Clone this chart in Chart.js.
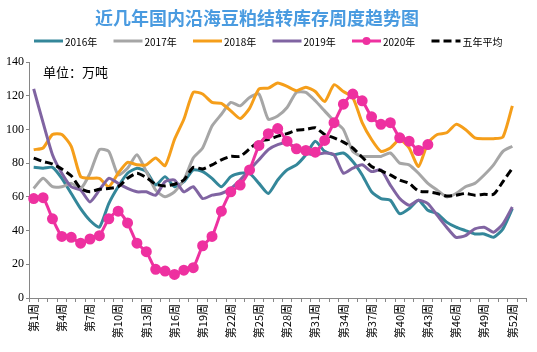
<!DOCTYPE html>
<html>
<head>
<meta charset="utf-8">
<script src="https://cdn.jsdelivr.net/npm/chart.js"></script>
<style>
  html, body { margin: 0; padding: 0; background: #fff; }
</style>
</head>
<body>
<canvas id="stockChart" width="537" height="352"></canvas>
<script>
// 周次（第53周只占位，不画数据）
const weeks = ['第1周','第2周','第3周','第4周','第5周','第6周','第7周','第8周','第9周','第10周',
  '第11周','第12周','第13周','第14周','第15周','第16周','第17周','第18周','第19周','第20周',
  '第21周','第22周','第23周','第24周','第25周','第26周','第27周','第28周','第29周','第30周',
  '第31周','第32周','第33周','第34周','第35周','第36周','第37周','第38周','第39周','第40周',
  '第41周','第42周','第43周','第44周','第45周','第46周','第47周','第48周','第49周','第50周',
  '第51周','第52周','第53周'];

const y2016 = [77.5,77,77.5,71,62,53,46,42,56,66, 74,77,75,67,72,66,69,76,75,71,
  66,72,74,74,68,62,70,76,79,85, 93,87,85,86,81,73,63,59,58,50, 53,58,52,50,45,42,40,38,38,36, 41,53];
const y2017 = [65,71,66,66,68,65,74,88,87,73, 77,85,75,64,60,63,70,83,89,102,
  109,116,114,119,121,106,108,113,122,122, 117,111,105,100,87,84,84,84,86,80, 79,74,68,64,60,62,66,68,73,79, 87,90];
const y2018 = [88,89,97,97,90,72,71,71,66,74, 80.5,79,79,83,78.5,94,106,122,121,116,
  115.5,111,106.5,112.5,124,124.5,127.5,125.5,123,125, 122.5,116.5,126.5,122.5,119,104,94,87,89,94,
  89,78,92,97,98,103,100,95,94.5,94.5, 95.5,114];
const y2019 = [124,104,85,74,66,64,57,64,71,68, 65,63,63,61,69,70,63,66,59,61,
  62,65,70,76,82,88,91,92,89,86, 85,86,85,74,77,79,75,76,67,59, 55,58,56,49,42,36,37,41,42,39, 44,54];
const y2020 = [59,59.5,47,36.5,36,32.5,35,37,47,51.5, 44.5,32.5,27.5,17,16,14,16.5,18,31,36.5,
  51.5,63,67,76,90.5,97.5,100.5,93,88.5,87.5, 86.5,93.5,104,115,121,117,107.5,103,104,95, 93,87.5,91];
const avg5 = [83,81,79.5,76.5,72.5,65,63,64.5,65,66, 71,74,71.5,67.5,66.5,67.5,70,77.5,76.5,79,
  82,84,84,88.5,93,94,96,97.5,99.5,100, 101,97,95,92.5,89,83.5,78,75.5,73,70,
  68,63.5,63,62,60.5,61,62,61,61.5,61.5, 69,77];

const yTicks = [0, 20, 40, 60, 80, 100, 120, 140];
const titleText = '近几年国内沿海豆粕结转库存周度趋势图';
const unitText = '单位：万吨';

const axisGray = '#868686';

// 标题、图例和单位文字
const overlayText = {
  id: 'overlayText',
  afterDraw(chart) {
    const ctx = chart.ctx;
    ctx.save();
    ctx.textBaseline = 'middle';

    ctx.fillStyle = '#4a9be0';
    ctx.font = 'bold 18px "Noto Sans CJK SC"';
    ctx.textAlign = 'center';
    ctx.fillText(titleText, 257, 18);

    ctx.fillStyle = '#000';
    ctx.font = '13px "Noto Sans CJK SC"';
    ctx.textAlign = 'left';
    ctx.fillText(unitText, 43, 72);

    ctx.font = '10px "Noto Sans CJK SC"';
    chart.data.datasets.forEach((ds, i) => {
      const x0 = 34 + i * 79.5;
      const y = 41;
      ctx.strokeStyle = ds.borderColor;
      ctx.lineWidth = 3;
      ctx.setLineDash(ds.borderDash || []);
      ctx.beginPath();
      ctx.moveTo(x0, y);
      ctx.lineTo(x0 + 29, y);
      ctx.stroke();
      ctx.setLineDash([]);
      if (ds.pointRadius > 0) {
        ctx.fillStyle = ds.borderColor;
        ctx.beginPath();
        ctx.arc(x0 + 14.5, y, 4, 0, Math.PI * 2);
        ctx.fill();
      }
      ctx.fillStyle = '#000';
      ctx.fillText(ds.label, x0 + 31, y + 1);
    });
    ctx.restore();
  }
};

const ctx = document.getElementById('stockChart').getContext('2d');
new Chart(ctx, {
  type: 'line',
  data: {
    labels: weeks,
    datasets: [
      { label: '2016年', data: y2016, borderColor: '#34879a', order: 5 },
      { label: '2017年', data: y2017, borderColor: '#a6a6a6', order: 4 },
      { label: '2018年', data: y2018, borderColor: '#f59e1a', order: 3 },
      { label: '2019年', data: y2019, borderColor: '#8064a2', order: 2 },
      { label: '2020年', data: y2020, borderColor: '#ee31a0', order: 0,
        pointRadius: 4, pointBackgroundColor: '#ee31a0', pointBorderColor: '#ee31a0' },
      { label: '五年平均', data: avg5, borderColor: '#000', borderDash: [8, 4], order: 1 }
    ].map(ds => Object.assign({
      borderWidth: 3,
      pointRadius: 0,
      tension: 0.2,
      fill: false
    }, ds))
  },
  options: {
    responsive: false,
    animation: false,
    devicePixelRatio: 1,
    layout: { padding: { top: 62, right: 8, left: 0, bottom: 0 } },
    plugins: {
      legend: { display: false },
      title: { display: false },
      tooltip: { enabled: false }
    },
    scales: {
      x: {
        type: 'category',
        offset: true,
        afterFit(scale) { scale.height = 54; },
        grid: { drawOnChartArea: false, tickLength: 4, color: axisGray, offset: true },
        border: { color: axisGray, width: 1 },
        ticks: {
          autoSkip: false,
          minRotation: 90,
          maxRotation: 90,
          padding: 2,
          color: '#000',
          font: { family: '"Noto Sans CJK SC"', size: 11 },
          callback: (val, idx) => (idx % 3 === 0 ? weeks[idx] : '')
        }
      },
      y: {
        min: 0,
        max: 140,
        afterFit(scale) { scale.width = 29; },
        afterBuildTicks(scale) { scale.ticks = yTicks.map(v => ({ value: v })); },
        grid: { drawOnChartArea: false, tickLength: 3, color: axisGray },
        border: { color: axisGray, width: 1 },
        ticks: {
          padding: 2,
          color: '#000',
          font: { family: '"Liberation Serif"', size: 12 }
        }
      }
    }
  },
  plugins: [overlayText]
});
</script>
</body>
</html>
